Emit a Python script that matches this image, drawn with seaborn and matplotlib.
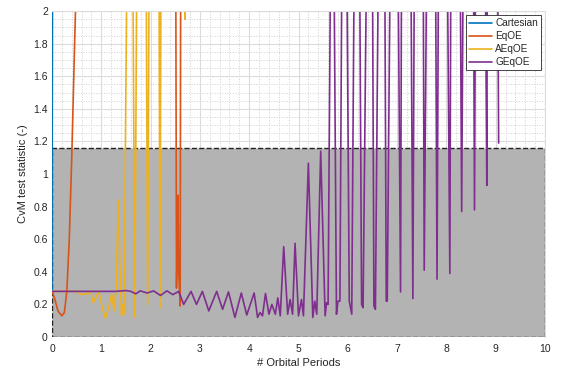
import numpy as np
import pandas as pd
import matplotlib
matplotlib.use("Agg")
import matplotlib.pyplot as plt
import seaborn as sns
from matplotlib.patches import Rectangle
from matplotlib.ticker import MultipleLocator, FuncFormatter

# ===============================
# DATA
# ===============================
# values above the y limit (2) are stored as 2.3 -> clipped off-chart
cart_x = [0.0, 0.01]
cart_y = [0.28, 2.3]

eqoe_x = [0.0, 0.05, 0.12, 0.2, 0.25, 0.3, 0.35, 0.4, 0.45, 0.48, 0.5,
          2.51, 2.525, 2.54, 2.555, 2.57, 2.6, 2.61, 2.7]
eqoe_y = [0.28, 0.24, 0.16, 0.13, 0.15, 0.28, 0.6, 1.1, 1.7, 2.05, 2.3,
          2.3, 0.3, 0.6, 0.87, 0.4, 0.19, 2.3, 2.3]

aeqoe_x = [0.0, 0.5, 0.6, 0.7, 0.78, 0.84, 0.9, 0.95, 1.02, 1.08, 1.14,
           1.21, 1.26, 1.3, 1.345, 1.38, 1.41, 1.43, 1.46, 1.52,
           1.64, 1.68, 1.72, 1.91, 1.94, 1.97, 2.17, 2.19, 2.21,
           2.69, 2.70, 2.71, 2.8]
aeqoe_y = [0.28, 0.28, 0.26, 0.265, 0.28, 0.21, 0.25, 0.28, 0.18, 0.115, 0.17,
           0.265, 0.16, 0.3, 0.84, 0.4, 0.13, 0.2, 0.14, 2.3,
           2.3, 0.12, 2.3, 2.3, 0.2, 2.3, 2.3, 0.18, 2.3,
           2.3, 1.95, 2.3, 2.3]

geqoe_x = [0.0, 0.5, 1.0, 1.3, 1.5, 1.6, 1.7, 1.79, 1.93, 2.06, 2.2, 2.33,
           2.45, 2.57, 2.67, 2.82, 2.93, 3.05, 3.18, 3.34, 3.46, 3.58, 3.71,
           3.84, 3.95, 4.1, 4.17, 4.22, 4.27, 4.33, 4.4, 4.46, 4.53, 4.58,
           4.63, 4.7, 4.78, 4.83, 4.88, 4.93, 5.0, 5.06, 5.1, 5.2, 5.29,
           5.33, 5.37, 5.45, 5.54, 5.57, 5.60,
           5.65, 5.72, 5.77, 5.80, 5.84, 5.88, 5.98, 6.03, 6.08, 6.13,
           6.24, 6.28, 6.31, 6.38, 6.50, 6.53, 6.56, 6.62, 6.75, 6.78,
           6.80, 6.86, 7.02, 7.07, 7.09, 7.28, 7.32, 7.35, 7.53, 7.55,
           7.60, 7.78, 7.81, 7.84, 8.02, 8.07, 8.09, 8.28, 8.31, 8.34,
           8.55, 8.57, 8.59, 8.79, 8.82, 8.83, 9.04, 9.06]
geqoe_y = [0.28, 0.28, 0.28, 0.28, 0.285, 0.28, 0.265, 0.283, 0.27, 0.283,
           0.255, 0.283, 0.26, 0.28, 0.20, 0.28, 0.20, 0.28, 0.16, 0.28,
           0.17, 0.277, 0.12, 0.27, 0.135, 0.27, 0.12, 0.15, 0.13, 0.267,
           0.14, 0.2, 0.14, 0.24, 0.13, 0.554, 0.14, 0.23, 0.14, 0.575,
           0.13, 0.23, 0.13, 1.067, 0.12, 0.22, 0.14, 1.14, 0.13, 0.21, 0.20,
           2.3, 2.3, 0.14, 0.22, 0.22, 2.3, 2.3, 0.22, 0.14, 2.3,
           2.3, 0.20, 0.18, 2.3, 2.3, 0.19, 0.17, 2.3, 2.3, 0.22,
           0.22, 2.3, 2.3, 0.277, 2.3, 2.3, 0.236, 2.3, 2.3, 0.41,
           2.3, 2.3, 0.355, 2.3, 2.3, 0.39, 2.3, 2.3, 0.77, 2.3,
           2.3, 0.78, 2.3, 2.3, 0.93, 2.3, 2.3, 1.19]

series_names = ["Cartesian", "EqOE", "AEqOE", "GEqOE"]
series_colors = ["#0072BD", "#D95319", "#EDB120", "#7E2F8E"]

threshold = 1.16
x_max = 10

# ===============================
# BUILD LONG TABLE
# ===============================
frames = []
for name, xs, ys in zip(series_names,
                        [cart_x, eqoe_x, aeqoe_x, geqoe_x],
                        [cart_y, eqoe_y, aeqoe_y, geqoe_y]):
    frames.append(pd.DataFrame({"x": xs, "y": ys, "method": name}))
df = pd.concat(frames, ignore_index=True)

# ===============================
# PLOT
# ===============================
sns.set_theme(style="white")
plt.rcParams["font.family"] = ["Liberation Sans", "DejaVu Sans"]

fig = plt.figure(figsize=(5.63, 3.69), dpi=100)
ax = fig.add_axes([0.0924, 0.0867, 0.8756, 0.8833])

ax.set_axisbelow(True)
ax.add_patch(Rectangle((0, 0), x_max, threshold, facecolor="#b3b3b3",
                       edgecolor="#222222", linestyle="--", linewidth=1.0,
                       zorder=1))

sns.lineplot(data=df, x="x", y="y", hue="method", hue_order=series_names,
             palette=series_colors, sort=False, estimator=None,
             linewidth=1.2, ax=ax, zorder=2)

ax.set_xlim(0, x_max)
ax.set_ylim(0, 2)
ax.xaxis.set_major_locator(MultipleLocator(1))
ax.xaxis.set_minor_locator(MultipleLocator(0.2))
ax.yaxis.set_major_locator(MultipleLocator(0.2))
ax.yaxis.set_minor_locator(MultipleLocator(0.05))
fmt = FuncFormatter(lambda v, p: f"{v:g}")
ax.xaxis.set_major_formatter(fmt)
ax.yaxis.set_major_formatter(fmt)

ax.grid(which="major", color="#dcdcdc", linestyle="-", linewidth=0.8)
ax.grid(which="minor", color="#d0d0d0", linestyle=":", linewidth=0.7)

ax.tick_params(which="both", direction="in", colors="#262626",
               labelsize=7.5)
ax.tick_params(axis="x", pad=5)
ax.tick_params(axis="y", pad=3)
ax.tick_params(which="major", length=3, width=0.5)
ax.tick_params(which="minor", length=0)

for side in ["left", "bottom"]:
    ax.spines[side].set_visible(False)
for side in ["top", "right"]:
    ax.spines[side].set_color("#dcdcdc")
    ax.spines[side].set_linewidth(0.8)

ax.set_xlabel("# Orbital Periods", fontsize=8, color="#262626", labelpad=3)
ax.set_ylabel("CvM test statistic (-)", fontsize=8, color="#262626",
              labelpad=4)

leg = ax.legend(loc="upper right", fontsize=7.2, frameon=True, fancybox=False,
                edgecolor="#262626", framealpha=1, borderpad=0.3,
                handlelength=2.3, handletextpad=0.35, labelspacing=0.3,
                borderaxespad=0.4)
leg.get_frame().set_linewidth(0.6)
leg.set_title(None)

plt.savefig("out.png", dpi=100)
plt.close()
